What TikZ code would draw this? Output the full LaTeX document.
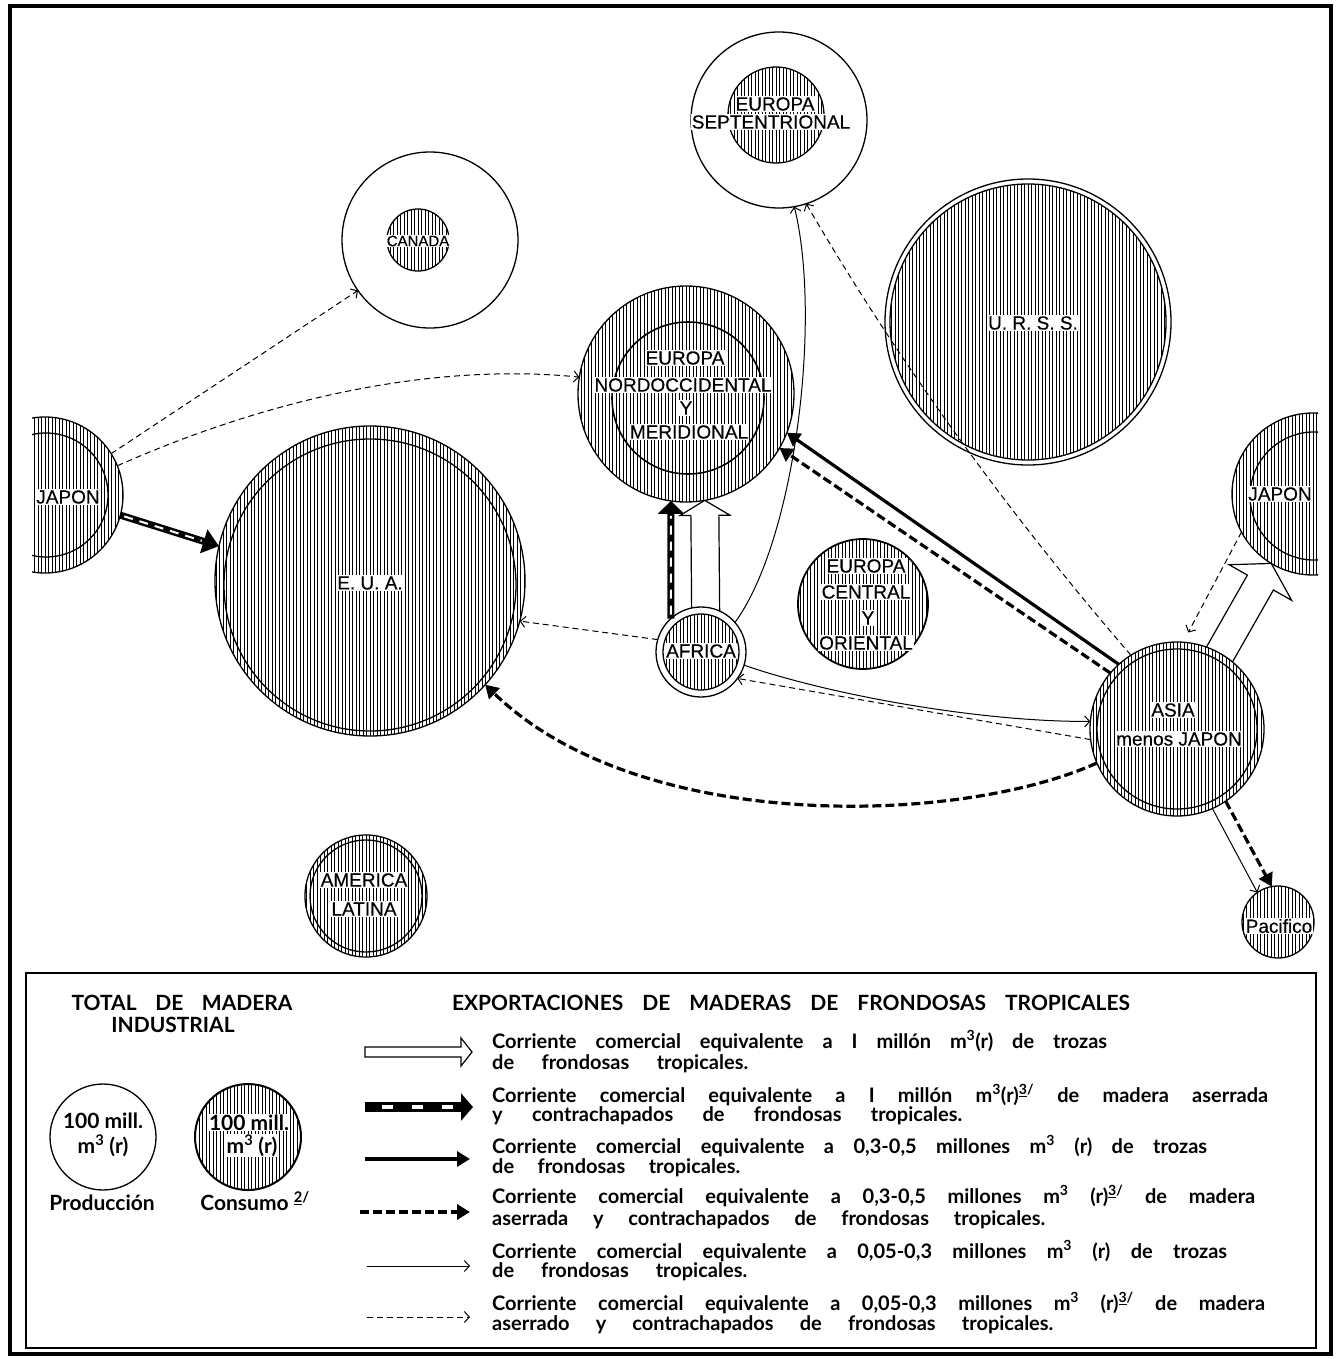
\documentclass[tikz,border=0pt]{standalone}
\usepackage{fontspec}
\setmainfont{Liberation Sans}
\newfontfamily\legfont{Lato}
\newfontfamily\labfont[FakeBold=0.4]{Liberation Sans}
\usetikzlibrary{arrows.meta,calc}
\pgfdeclarelayer{bg}
\pgfsetlayers{bg,main}

% start, tip, shaft half width, head half width, head length, closing code
\newcommand{\hollowarrow}[6]{%
  \coordinate (hb) at ($(#2)!#5!(#1)$);
  \fill[white] ($(#1)!#3!90:(#2)$) -- ($(hb)!#3!90:(#2)$) -- ($(hb)!#4!90:(#2)$) -- (#2)
     -- ($(hb)!#4!-90:(#2)$) -- ($(hb)!#3!-90:(#2)$) -- ($(#1)!#3!-90:(#2)$) -- cycle;
  \draw[hollowline] ($(#1)!#3!90:(#2)$) -- ($(hb)!#3!90:(#2)$) -- ($(hb)!#4!90:(#2)$) -- (#2)
     -- ($(hb)!#4!-90:(#2)$) -- ($(hb)!#3!-90:(#2)$) -- ($(#1)!#3!-90:(#2)$) #6;
}
\newcommand{\legline}[4]{\node[legtext] (#1) at (492,#2) {\makebox[#3pt][s]{#4}};}

\begin{document}
\begin{tikzpicture}[x=1pt,y=-1pt,
  region/.style={circle, draw, fill=white, line width=1.3pt, inner sep=0pt, outer sep=0pt},
  ringline/.style={circle, draw, line width=1.3pt, inner sep=0pt, outer sep=0pt},
  hatched/.style={path picture={\foreach \k in {-46,...,46}{\draw[line width=0.8pt]
      ([xshift=\k*3.5pt]path picture bounding box.north) -- ([xshift=\k*3.5pt]path picture bounding box.south);}}},
  lab/.style={font=\labfont\fontsize{19}{21}\selectfont, fill=white, inner sep=1pt},
  logsmall/.style={line width=1pt, -{Straight Barb[length=5pt,width=11pt]}},
  sawnsmall/.style={logsmall, dash pattern=on 6pt off 4pt},
  logmid/.style={line width=3.2pt, -{Triangle[length=13pt,width=15pt]}},
  sawnmid/.style={logmid, dash pattern=on 9pt off 4pt},
  hollowline/.style={line width=1.2pt, line join=miter},
  sawnbase/.style n args={3}{line width=#1, -{Triangle[length=#2,width=#3]}},
  sawnwhite/.style={white, line width=2.5pt},
  legtext/.style={font=\legfont\bfseries\fontsize{20}{22}\selectfont, anchor=base west, inner sep=0pt},
  legc/.style={font=\legfont\bfseries\fontsize{21}{23}\selectfont, anchor=base, inner sep=0.5pt},
  title/.style={font=\legfont\bfseries\fontsize{21}{23}\selectfont, anchor=base, inner sep=0pt},
]
\useasboundingbox (0,0) rectangle (1343,1359);

% ---------- regions ----------
\node[region, minimum size=176pt] (sept) at (779,120) {};
\node[region, hatched, minimum size=96pt] (septC) at (776,115) {};

\node[region, minimum size=176pt] (canada) at (430,240) {};
\node[region, hatched, minimum size=62pt] (canadaC) at (418,240) {};

\node[region, hatched, minimum size=216pt] (eno) at (686,394) {};
\node[ringline, minimum size=152pt, line width=1.6pt] (enoP) at (688,398) {};

\node[region, minimum size=286pt] (urss) at (1028,322) {};
\node[region, hatched, minimum size=276pt] (urssC) at (1028,322) {};

\node[region, hatched, minimum size=310pt] (eua) at (370,581) {};
\node[ringline, minimum size=292pt] (euaP) at (370,585) {};

\node[region, minimum size=90pt] (africa) at (701,652) {};
\node[region, hatched, minimum size=76pt] (africaC) at (701,652) {};

\node[region, hatched, minimum size=130pt, line width=1.8pt] (ece) at (863,604) {};

\node[region, hatched, minimum size=174pt] (asia) at (1177,729) {};
\node[ringline, minimum size=160pt] (asiaP) at (1177,729) {};

\begin{scope}
  \clip (32,300) rectangle (300,700);
  \node[region, hatched, minimum size=156pt] (japl) at (45,495) {};
  \node[ringline, minimum size=124pt] (japlP) at (46,495) {};
\end{scope}
\begin{scope}
  \clip (1000,300) rectangle (1318,700);
  \node[region, hatched, minimum size=162pt] (japr) at (1313,494) {};
  \node[ringline, minimum size=128pt] (japrP) at (1314,496) {};
\end{scope}

\node[region, hatched, minimum size=72pt] (pac) at (1278,922) {};

\node[region, hatched, minimum size=122pt] (amlat) at (366,896) {};
\node[ringline, minimum size=112pt] (amlatP) at (366,896) {};

% ---------- flows ----------
\begin{pgfonlayer}{bg}
  \hollowarrow{[xshift=5pt]africa.center}{eno.-80}{14pt}{25pt}{15pt}{}
  \hollowarrow{asia.center}{japr.239}{15pt}{36pt}{22pt}{}
\end{pgfonlayer}

\draw[sawnsmall] (japl.32) -- (canada.215);
\draw[sawnsmall] (japl.22) .. controls (300,385) and (460,365) .. (eno.171);
\draw[sawnbase={7pt}{16pt}{24pt}] (japl.-15) -- (eua.167);
\draw[sawnwhite, line width=2pt, dash pattern=on 9pt off 7pt, shorten <=4pt, shorten >=18pt] (japl.-15) -- (eua.167);

\draw[sawnbase={7pt}{13pt}{26pt}] (africa.132) -- (eno.262);
\draw[sawnwhite, line width=2pt, dash pattern=on 9pt off 7pt, shorten <=4pt, shorten >=15pt] (africa.132) -- (eno.262);

\draw[logsmall] (africa.41) .. controls (795,540) and (822,320) .. (sept.-80);
\draw[sawnsmall] (africa.164) -- (eua.-15);
\draw[logsmall] (africa.-17) .. controls (830,695) and (980,722) .. (asia.175);
\draw[sawnsmall] (asia.187) -- (africa.-36);

\draw[logmid] (asia.132) -- (eno.-21);
\draw[sawnmid] (asia.140) -- (eno.-30);
\draw[sawnsmall] (asia.122) .. controls (1010,515) and (900,365) .. (sept.-72);
\draw[sawnmid] (asia.203) .. controls (960,825) and (640,835) .. (eua.-42);
\draw[sawnsmall, shorten >=11pt] (japr.208) -- (asia.86);
\draw[logsmall] (asia.-66) -- (pac.125);
\draw[sawnmid] (asia.-56) -- (pac.100);

% ---------- labels ----------
\node[lab] (septA) at (775,104) {EUROPA};
\node[lab] (septB) at (771,122) {SEPTENTRIONAL};
\node[lab, font=\labfont\fontsize{15}{17}\selectfont] (canL) at (418,241) {CANADA};
\node[lab] (enoA) at (685,358) {EUROPA};
\node[lab] (enoB) at (683,385) {NORDOCCIDENTAL};
\node[lab] (enoC) at (686,408) {Y};
\node[lab] (enoD) at (689,432) {MERIDIONAL};
\node[lab] (urssL) at (1033,323) {U. R. S. S.};
\node[lab] (euaL) at (370,583) {E. U. A.};
\node[lab] (afrL) at (701,651) {AFRICA};
\node[lab] (eceA) at (866,566) {EUROPA};
\node[lab] (eceB) at (866,592) {CENTRAL};
\node[lab] (eceC) at (868,618) {Y};
\node[lab] (eceD) at (866,643) {ORIENTAL};
\node[lab] (asiaA) at (1173,710) {ASIA};
\node[lab] (asiaB) at (1179,739) {menos JAPON};
\node[lab] (japlL) at (68,497) {JAPON};
\node[lab] (japrL) at (1280,494) {JAPON};
\node[lab] (pacL) at (1279,926) {Pacifico};
\node[lab] (amA) at (364,880) {AMERICA};
\node[lab] (amB) at (364,909) {LATINA};

% ---------- frames ----------
\draw[line width=4pt] (10,6) rectangle (1331,1354);
\draw[line width=2pt] (26,973) rectangle (1316,1348);

% ---------- legend ----------
\node[title] (tt1) at (182,1010) {\makebox[221pt][s]{TOTAL DE MADERA}};
\node[title] (tt2) at (173,1032) {INDUSTRIAL};
\node[title] (tt3) at (791,1010) {\makebox[678pt][s]{EXPORTACIONES DE MADERAS DE FRONDOSAS TROPICALES}};

\node[region, minimum size=106pt] (prodC) at (103,1137) {};
\node[region, hatched, minimum size=106pt, line width=2pt] (consC) at (248,1137) {};
\node[legc] (prodT1) at (103,1128) {100 mill.};
\node[legc] (prodT2) at (103,1153) {m\textsuperscript{3} (r)};
\node[legc, fill=white] (consT1) at (249,1130) {100 mill.};
\node[legc, fill=white] (consT2) at (252,1153) {m\textsuperscript{3} (r)};
\node[legc] (prodL) at (102,1210) {Producción};
\node[legc] (consL) at (255,1210) {Consumo \textsuperscript{\underline{2}/}};

\coordinate (la1) at (365,1052); \coordinate (la2) at (472,1052);
\coordinate (lb1) at (365,1107); \coordinate (lb2) at (473,1107);
\coordinate (lc1) at (365,1159); \coordinate (lc2) at (470,1159);
\coordinate (ld1) at (360,1212); \coordinate (ld2) at (470,1212);
\coordinate (le1) at (367,1266); \coordinate (le2) at (470,1266);
\coordinate (lf1) at (367,1317); \coordinate (lf2) at (470,1317);

\hollowarrow{la1}{la2}{5pt}{14pt}{11pt}{-- cycle}
\draw[sawnbase={10pt}{12pt}{27pt}] (lb1) -- (lb2);
\draw[sawnwhite, line width=4pt, dash pattern=on 11pt off 19pt, shorten <=17pt, shorten >=13pt] (lb1) -- (lb2);
\draw[logmid] (lc1) -- (lc2);
\draw[sawnmid] (ld1) -- (ld2);
\draw[logsmall] (le1) -- (le2);
\draw[sawnsmall] (lf1) -- (lf2);

\legline{t1a}{1048}{615}{Corriente comercial equivalente a I millón m\textsuperscript{3}(r) de trozas}
\legline{t1b}{1069}{256}{de frondosas tropicales.}
\legline{t2a}{1102}{776}{Corriente comercial equivalente a I millón m\textsuperscript{3}(r)\textsuperscript{\underline{3}/} de madera aserrada}
\legline{t2b}{1121}{470}{y contrachapados de frondosas tropicales.}
\legline{t3a}{1153}{715}{Corriente comercial equivalente a 0,3-0,5 millones m\textsuperscript{3} (r) de trozas}
\legline{t3b}{1173}{248}{de frondosas tropicales.}
\legline{t4a}{1203}{763}{Corriente comercial equivalente a 0,3-0,5 millones m\textsuperscript{3} (r)\textsuperscript{\underline{3}/} de madera}
\legline{t4b}{1225}{553}{aserrada y contrachapados de frondosas tropicales.}
\legline{t5a}{1258}{735}{Corriente comercial equivalente a 0,05-0,3 millones m\textsuperscript{3} (r) de trozas}
\legline{t5b}{1277}{255}{de frondosas tropicales.}
\legline{t6a}{1310}{773}{Corriente comercial equivalente a 0,05-0,3 millones m\textsuperscript{3} (r)\textsuperscript{\underline{3}/} de madera}
\legline{t6b}{1330}{561}{aserrado y contrachapados de frondosas tropicales.}
\end{tikzpicture}
\end{document}
